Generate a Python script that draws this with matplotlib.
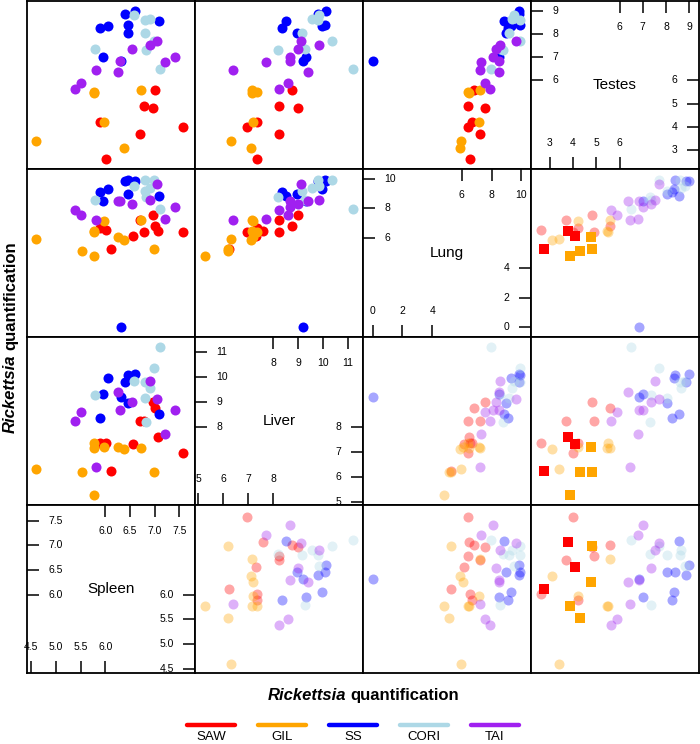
import matplotlib
matplotlib.use("Agg")
import matplotlib.pyplot as plt
import numpy as np
from matplotlib.lines import Line2D

plt.rcParams['font.family'] = ['Liberation Sans', 'DejaVu Sans']

groups = ["SAW", "GIL", "SS", "CORI", "TAI"]
colors = ["#FF0000", "#FFA500", "#0000FF", "#ADD8E6", "#A020F0"]

# values (log scale quantification per organ)
saw_spleen = [6.97, 7.00, 6.70, 6.78, 7.06, 6.02, 5.89, 6.57, 7.58, 6.12]
saw_liver = [9.01, 8.76, 8.25, 8.25, 7.60, 7.37, 7.34, 7.30, 6.93, 6.23]
saw_lung = [7.53, 6.79, 7.25, 6.40, 6.49, 6.56, 6.67, 6.16, 6.40, 5.24]
saw_testes = [4.82, 5.61, 3.68, 4.92, 3.79, 2.64, 4.21, 4.08, 4.01, 2.77]
saw_square = [0, 0, 0, 0, 1, 0, 0, 1, 0, 1]

gil_spleen = [4.60, 5.53, 5.77, 5.78, 5.77, 5.97, 6.25, 6.37, 6.72, 6.98]
gil_liver = [6.30, 6.20, 7.37, 7.14, 5.27, 7.18, 7.21, 7.10, 7.14, 6.20]
gil_lung = [5.93, 5.12, 6.38, 6.46, 4.79, 7.12, 6.07, 5.89, 7.24, 5.28]
gil_testes = [3.39, 4.28, 5.49, 5.45, 3.85, 4.21, 4.77, 3.09, 5.58, 4.80]
gil_square = [0, 1, 0, 0, 1, 0, 1, 0, 0, 1]

ss_spleen = [5.89, 5.96, 6.05, 6.32, 6.39, 6.47, 6.46, 6.61, 7.08]
ss_liver = [8.34, 9.32, 9.97, 9.20, 9.79, 10.07, 8.96, 10.13, 8.53]
ss_lung = [9.08, 8.47, 9.30, 0.00, 9.82, 9.93, 8.97, 9.82, 8.81]
ss_testes = [8.26, 7.00, 8.33, 6.85, 8.87, 8.40, 8.04, 9.00, 8.54]
ss_square = [0] * 9

cori_spleen = [7.10, 6.98, 6.58, 6.81, 6.90, 5.80, 6.80, 6.83]
cori_liver = [11.20, 10.37, 9.85, 9.80, 9.56, 9.28, 9.14, 8.19]
cori_lung = [7.96, 9.93, 9.53, 9.93, 9.37, 8.58, 9.15, 8.77]
cori_testes = [6.50, 7.68, 8.83, 8.59, 8.65, 7.36, 8.04, 7.33]
cori_square = [0] * 8

tai_spleen = [5.38, 5.51, 5.82, 6.25, 6.30, 6.55, 6.91, 7.05, 7.22, 7.41]
tai_liver = [8.25, 8.58, 6.37, 9.42, 8.66, 9.00, 9.83, 9.12, 7.73, 8.66]
tai_lung = [7.86, 7.55, 7.21, 8.47, 8.47, 8.29, 8.54, 9.64, 7.26, 8.09]
tai_testes = [5.64, 5.90, 6.45, 6.35, 6.85, 7.37, 7.54, 7.68, 6.78, 7.01]
tai_square = [0] * 10

var_names = ["Spleen", "Liver", "Lung", "Testes"]
var_lims = [(4.41, 7.82), (4.86, 11.61), (-0.65, 10.65), (2.19, 9.42)]
ticks_hi = [[6.0, 6.5, 7.0, 7.5], [8, 9, 10, 11], [6, 8, 10], [6, 7, 8, 9]]
ticks_lo = [[4.5, 5.0, 5.5, 6.0], [5, 6, 7, 8], [0, 2, 4], [3, 4, 5, 6]]
tick_fmt = ["{:.1f}", "{:g}", "{:g}", "{:g}"]

group_data = [
    (saw_spleen, saw_liver, saw_lung, saw_testes, saw_square),
    (gil_spleen, gil_liver, gil_lung, gil_testes, gil_square),
    (ss_spleen, ss_liver, ss_lung, ss_testes, ss_square),
    (cori_spleen, cori_liver, cori_lung, cori_testes, cori_square),
    (tai_spleen, tai_liver, tai_lung, tai_testes, tai_square),
]

W, H = 700, 744
fig = plt.figure(figsize=(7, 7.44), dpi=100)
X0, Y0, CELL = 27, 1, 168


def rect(c, r):
    return [(X0 + c * CELL) / W, 1 - (Y0 + (r + 1) * CELL) / H, CELL / W, CELL / H]


def diag_panel(ax, k):
    ax.text(0.5, 0.5, var_names[k], transform=ax.transAxes, ha='center',
            va='center', fontsize=11)
    tl, gap = 0.072, 0.055
    ty = ax.get_yaxis_transform()
    tx = ax.get_xaxis_transform()
    kw = dict(color='black', lw=1.1, clip_on=False, solid_capstyle='butt')
    for v in ticks_hi[k]:
        lab = tick_fmt[k].format(v)
        ax.plot([0, tl], [v, v], transform=ty, **kw)
        ax.text(tl + gap, v, lab, transform=ty, ha='left', va='center', fontsize=7.5)
        ax.plot([v, v], [1, 1 - tl], transform=tx, **kw)
        ax.text(v, 1 - tl - gap, lab, transform=tx, ha='center', va='top', fontsize=7.5)
    for v in ticks_lo[k]:
        lab = tick_fmt[k].format(v)
        ax.plot([v, v], [0, tl], transform=tx, **kw)
        ax.text(v, tl + gap, lab, transform=tx, ha='center', va='bottom', fontsize=7.5)
        ax.plot([1, 1 - tl], [v, v], transform=ty, **kw)
        ax.text(1 - tl - gap, v, lab, transform=ty, ha='right', va='center', fontsize=7.5)


for r in range(4):
    j = 3 - r
    for c in range(4):
        i = c
        ax = fig.add_axes(rect(c, r))
        ax.set_xlim(var_lims[i])
        ax.set_ylim(var_lims[j])
        ax.set_xticks([])
        ax.set_yticks([])
        for sp in ax.spines.values():
            sp.set_linewidth(1.3)
        if i == j:
            diag_panel(ax, i)
            continue
        for g, col in zip(group_data, colors):
            xv = np.array(g[i])
            yv = np.array(g[j])
            sq = np.array(g[4]) == 1
            if j > i:
                keep = ~sq if j == 3 else np.ones(len(xv), bool)
                ax.scatter(xv[keep], yv[keep], s=52, color=col, lw=0)
            else:
                keep = ~sq if i == 3 else np.ones(len(xv), bool)
                ax.scatter(xv[keep], yv[keep], s=52, color=col, lw=0, alpha=0.35)
        if i == 3 and j < i:
            for g, col in zip(group_data, colors):
                sq = np.array(g[4]) == 1
                if sq.any():
                    ax.scatter(np.array(g[i])[sq], np.array(g[j])[sq], s=50,
                               marker='s', color=col, lw=0)

# axis titles: italic "Rickettsia" + " quantification"
rend = fig.canvas.get_renderer()
tmp_a = fig.text(0, 0, "Rickettsia", fontsize=12, fontweight='bold', fontstyle='italic')
tmp_b = fig.text(0, 0, "quantification", fontsize=12, fontweight='bold')
la = tmp_a.get_window_extent(rend).width
lb = tmp_b.get_window_extent(rend).width
tmp_a.remove()
tmp_b.remove()
gap = 4
total = la + gap + lb

cx, base_y = X0 + 2 * CELL, 700
sx = cx - total / 2
fig.text(sx / W, 1 - base_y / H, "Rickettsia", fontsize=12, fontweight='bold',
         fontstyle='italic', ha='left', va='baseline')
fig.text((sx + la + gap) / W, 1 - base_y / H, "quantification", fontsize=12,
         fontweight='bold', ha='left', va='baseline')

cy, base_x = Y0 + 2 * CELL, 15
sy = (H - cy) - total / 2
fig.text(base_x / W, sy / H, "Rickettsia", fontsize=12, fontweight='bold',
         fontstyle='italic', ha='left', va='baseline', rotation=90,
         rotation_mode='anchor')
fig.text(base_x / W, (sy + la + gap) / H, "quantification", fontsize=12,
         fontweight='bold', ha='left', va='baseline', rotation=90,
         rotation_mode='anchor')

# legend
leg_centers = [211, 282, 353, 424, 495]
for xc, name, col in zip(leg_centers, groups, colors):
    fig.add_artist(Line2D([(xc - 24) / W, (xc + 24) / W], [1 - 725 / H, 1 - 725 / H],
                          transform=fig.transFigure, color=col, lw=3.2,
                          solid_capstyle='round'))
    fig.text(xc / W, 1 - 742.5 / H, name, ha='center', va='bottom', fontsize=9.5)

fig.savefig("out.png", dpi=100)
